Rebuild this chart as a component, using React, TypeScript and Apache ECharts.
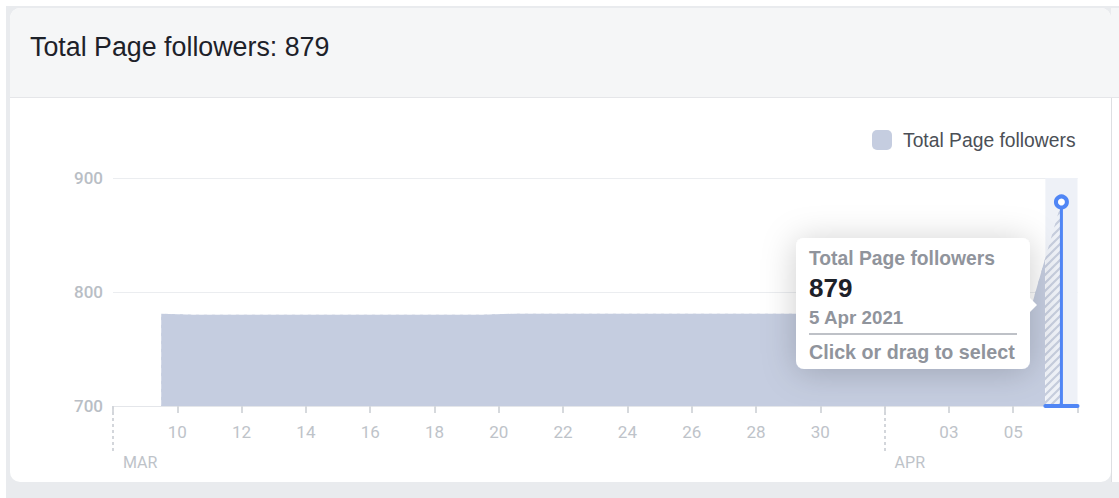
import { useEffect, useRef } from "react";
import * as echarts from "echarts";

// ---- data ----
const dates = [
  "9 Mar", "10 Mar", "11 Mar", "12 Mar", "13 Mar", "14 Mar", "15 Mar", "16 Mar",
  "17 Mar", "18 Mar", "19 Mar", "20 Mar", "21 Mar", "22 Mar", "23 Mar", "24 Mar",
  "25 Mar", "26 Mar", "27 Mar", "28 Mar", "29 Mar", "30 Mar", "31 Mar",
  "1 Apr", "2 Apr", "3 Apr", "4 Apr", "5 Apr", "6 Apr",
];
const followers = [
  781, 780, 780, 780, 780, 780, 780, 780,
  780, 780, 780, 781, 781, 781, 781, 781,
  781, 781, 781, 781, 781, 781, 781,
  781, 781, 781, 781, 781, 879,
];
// x axis: days counted from 8 Mar 00:00, ticks every 2 days
const xTickLabels = ["", "10", "12", "14", "16", "18", "20", "22", "24", "26", "28", "30", "", "03", "05", ""];
const monthLabels = ["MAR", "APR"];
const monthStarts = [0, 24];
const yTicks = [700, 800, 900];

const seriesName = "Total Page followers";
const tooltipDate = "5 Apr 2021";
const tooltipHint = "Click or drag to select";

const axisFont = "Roboto, 'Noto Sans', sans-serif";
const uiFont = "'Liberation Sans', Arial, Helvetica, sans-serif";
const BLUE = "#5086f5";
const AREA = "#c5cde0";
const LABEL = "#bec3c9";

function makeHatch(): HTMLCanvasElement {
  const c = document.createElement("canvas");
  c.width = 8;
  c.height = 8;
  const ctx = c.getContext("2d")!;
  ctx.strokeStyle = "#c6cddd";
  ctx.lineWidth = 2.2;
  ctx.beginPath();
  ctx.moveTo(-2, 10);
  ctx.lineTo(10, -2);
  ctx.moveTo(-2, 2);
  ctx.lineTo(2, -2);
  ctx.moveTo(6, 10);
  ctx.lineTo(10, 6);
  ctx.stroke();
  return c;
}

export default function App() {
  const ref = useRef<HTMLDivElement>(null);

  useEffect(() => {
    if (!ref.current) return;
    const chart = echarts.init(ref.current, undefined, { renderer: "svg" });

    const pts = followers.map((v, i) => [i + 1.5, v]);
    const firstX = pts[0][0];
    const lastX = pts[pts.length - 1][0];
    const lastV = followers[followers.length - 1];
    const stop = (lastX - 0.5 - firstX) / (lastX - firstX);

    const option: any = {
      animation: false,
      backgroundColor: "transparent",
      grid: { left: 113, right: 41.5, top: 178, bottom: 92 },
      legend: {
        data: [{ name: seriesName, itemStyle: { color: AREA, borderWidth: 0 } }],
        left: 867,
        top: 125,
        itemWidth: 20,
        itemHeight: 20,
        icon: "roundRect",
        selectedMode: false,
        textStyle: { fontSize: 19.3, color: "#4b4f56", fontFamily: uiFont, padding: [0, 0, 0, 6] },
      },
      xAxis: [
        {
          type: "value",
          position: "bottom",
          min: 0,
          max: 30,
          interval: 2,
          axisLine: { show: true, lineStyle: { color: "#e4e6ea", width: 1 } },
          axisTick: { show: true, length: 7, lineStyle: { color: "#d6d9dd", width: 2 } },
          axisLabel: {
            formatter: (v: number) => xTickLabels[Math.round(v / 2)] ?? "",
            color: LABEL,
            fontSize: 17,
            fontFamily: axisFont,
            margin: 17,
          },
          splitLine: { show: false },
        },
        {
          type: "value",
          position: "bottom",
          offset: 0,
          min: 0,
          max: 30,
          axisLine: { show: false },
          axisTick: {
            show: true,
            customValues: monthStarts,
            length: 46,
            lineStyle: { color: "#d3d6db", width: 2, type: [3, 3] },
          },
          axisLabel: {
            customValues: monthStarts,
            formatter: (v: number) => monthLabels[monthStarts.indexOf(v)] ?? "",
            align: "left",
            padding: [0, 0, 0, 10],
            margin: 48,
            color: LABEL,
            fontSize: 16,
            fontFamily: axisFont,
          },
          splitLine: { show: false },
        },
      ],
      yAxis: {
        type: "value",
        min: yTicks[0],
        max: yTicks[yTicks.length - 1],
        interval: yTicks[1] - yTicks[0],
        axisLine: { show: false },
        axisTick: { show: false },
        axisLabel: { color: "#b9bec5", fontSize: 17, fontWeight: 500, fontFamily: axisFont, margin: 10 },
        splitLine: { lineStyle: { color: "#ebedf0", width: 1 } },
      },
      series: [
        {
          name: "hatch",
          type: "line",
          data: pts,
          symbol: "none",
          silent: true,
          z: 2,
          lineStyle: { width: 0, opacity: 0 },
          areaStyle: { color: { image: makeHatch(), repeat: "repeat" }, opacity: 1 },
          markArea: {
            silent: true,
            itemStyle: { color: "#eef1f7" },
            data: [[{ xAxis: lastX - 0.5 }, { xAxis: lastX + 0.5 }]],
          },
        },
        {
          name: seriesName,
          type: "line",
          data: pts,
          symbol: "none",
          z: 3,
          itemStyle: { color: AREA },
          lineStyle: { width: 0, opacity: 0 },
          areaStyle: {
            opacity: 1,
            color: new echarts.graphic.LinearGradient(0, 0, 1, 0, [
              { offset: 0, color: AREA },
              { offset: stop, color: AREA },
              { offset: stop, color: "rgba(197,205,224,0)" },
              { offset: 1, color: "rgba(197,205,224,0)" },
            ]),
          },
        },
        {
          name: "stem",
          type: "line",
          z: 5,
          clip: false,
          silent: true,
          symbol: "none",
          showSymbol: true,
          lineStyle: { color: BLUE, width: 3 },
          itemStyle: { color: "#fff", borderColor: BLUE, borderWidth: 4 },
          data: [
            { value: [lastX, yTicks[0]], symbol: "none" },
            { value: [lastX, lastV], symbol: "circle", symbolSize: 11 },
          ],
        },
        {
          name: "cap",
          type: "line",
          z: 5,
          clip: false,
          silent: true,
          symbol: "none",
          lineStyle: { color: BLUE, width: 4, cap: "round" },
          data: [
            [lastX - 0.5, yTicks[0]],
            [lastX + 0.5, yTicks[0]],
          ],
        },
      ],
      graphic: [
        {
          type: "text",
          left: 30,
          top: 33,
          style: {
            text: `${seriesName}: ${lastV}`,
            fontSize: 26.8,
            fontFamily: uiFont,
            fill: "#1d2129",
          },
        },
        {
          type: "group",
          z: 100,
          children: [
            {
              type: "rect",
              z: 100,
              shape: { x: 796, y: 238, width: 234, height: 131, r: 8 },
              style: { fill: "#fff", shadowBlur: 34, shadowColor: "rgba(0,0,0,0.2)", shadowOffsetY: 3 },
            },
            {
              type: "polygon",
              z: 101,
              shape: { points: [[1029, 297], [1037, 305], [1029, 313]] },
              style: { fill: "#fff" },
            },
            {
              type: "text",
              z: 102,
              x: 809,
              y: 258.5,
              style: {
                text: seriesName,
                fontSize: 19.3,
                fontWeight: "bold",
                fontFamily: uiFont,
                fill: "#90949c",
                verticalAlign: "middle",
              },
            },
            {
              type: "text",
              z: 102,
              x: 809,
              y: 287.5,
              style: {
                text: String(lastV),
                fontSize: 26,
                fontWeight: "bold",
                fontFamily: uiFont,
                fill: "#1d2129",
                verticalAlign: "middle",
              },
            },
            {
              type: "text",
              z: 102,
              x: 809,
              y: 317,
              style: {
                text: tooltipDate,
                fontSize: 18.8,
                fontWeight: "bold",
                fontFamily: uiFont,
                fill: "#90949c",
                verticalAlign: "middle",
              },
            },
            {
              type: "line",
              z: 102,
              shape: { x1: 809, y1: 334, x2: 1017, y2: 334 },
              style: { stroke: "#a9adb4", lineWidth: 1.5 },
            },
            {
              type: "text",
              z: 102,
              x: 809,
              y: 351.5,
              style: {
                text: tooltipHint,
                fontSize: 19.7,
                fontWeight: "bold",
                fontFamily: uiFont,
                fill: "#90949c",
                verticalAlign: "middle",
              },
            },
          ],
        },
      ],
    };

    chart.setOption(option);
    return () => chart.dispose();
  }, []);

  return (
    <div style={{ position: "absolute", left: 0, top: 0, width: 1119, height: 498, background: "#fff", overflow: "hidden" }}>
      <div style={{ position: "absolute", left: 6, top: 6, right: 0, bottom: 0, background: "#e9ebee" }} />
      <div
        style={{
          position: "absolute",
          left: 10,
          top: 8,
          width: 1101,
          height: 474,
          background: "#fff",
          borderRadius: 10,
          overflow: "hidden",
        }}
      >
        <div style={{ height: 89, background: "#f5f6f7", borderBottom: "1px solid #e5e6e9" }} />
      </div>
      <div style={{ position: "absolute", left: 1111, top: 8, width: 8, height: 89, background: "#f5f6f7", borderBottom: "1px solid #e5e6e9" }} />
      <div style={{ position: "absolute", left: 1111, top: 98, width: 8, height: 384, background: "#fff", borderLeft: "1px solid #dddfe2", boxSizing: "border-box" }} />
      <div ref={ref} style={{ position: "absolute", left: 0, top: 0, width: 1119, height: 498 }} />
    </div>
  );
}
